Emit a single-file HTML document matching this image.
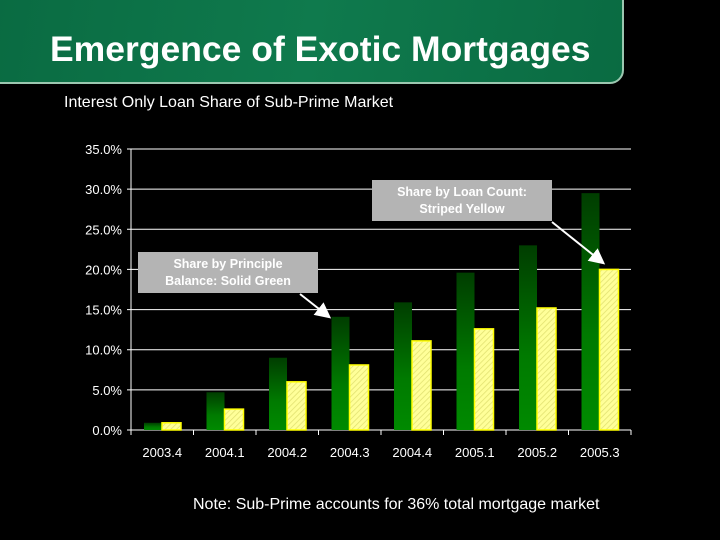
<!DOCTYPE html>
<html><head><meta charset="utf-8"><style>
body{margin:0;background:#000;width:720px;height:540px;overflow:hidden;font-family:"Liberation Sans",sans-serif;position:relative}
#hdr{position:absolute;left:-4px;top:-4px;width:628px;height:88px;background:linear-gradient(100deg,#0a6b42,#0f7a4d 50%,#0a6b42);border:2px solid #9cc7b0;border-bottom-right-radius:14px;box-sizing:border-box}
#title{position:absolute;left:50px;top:29px;font-size:35.5px;font-weight:bold;color:#fff;white-space:nowrap}
#sub{position:absolute;left:64px;top:94px;font-size:16px;color:#fff;white-space:nowrap}
#note{position:absolute;left:193px;top:496px;font-size:16px;color:#fff;white-space:nowrap}
</style></head><body>
<div id="hdr"></div>
<div id="title">Emergence of Exotic Mortgages</div>
<div id="sub">Interest Only Loan Share of Sub-Prime Market</div>
<div id="note">Note: Sub-Prime accounts for 36% total mortgage market</div>
<svg id="c" width="720" height="540" style="position:absolute;left:0;top:0">
<defs>
<linearGradient id="gg" x1="0" y1="0" x2="0" y2="1"><stop offset="0" stop-color="#003d00"/><stop offset="0.6" stop-color="#007a00"/><stop offset="1" stop-color="#008a00"/></linearGradient>
<pattern id="yp" width="4" height="4" patternUnits="userSpaceOnUse" patternTransform="rotate(45)"><rect width="4" height="4" fill="#ffff99"/><line x1="0" y1="0" x2="0" y2="4" stroke="#e0e070" stroke-width="1.5"/></pattern>
<marker id="ah" markerWidth="8" markerHeight="8" refX="6" refY="4" orient="auto"><path d="M0,0 L8,4 L0,8 z" fill="#fff"/></marker>
</defs>
</svg>
<script>
const categories=["2003.4","2004.1","2004.2","2004.3","2004.4","2005.1","2005.2","2005.3"];
const greenValues=[0.9,4.7,9.0,14.1,15.9,19.6,23.0,29.5];
const yellowValues=[0.9,2.6,6.0,8.1,11.1,12.6,15.2,20.0];
const yTicks=[0,5,10,15,20,25,30,35];
const yTickLabels=["0.0%","5.0%","10.0%","15.0%","20.0%","25.0%","30.0%","35.0%"];
const NS="http://www.w3.org/2000/svg";
const svg=document.getElementById('c');
const X0=131,X1=631,Y0=430,Y1=149;
const y=v=>Y0-(v/35)*(Y0-Y1);
const bw=(X1-X0)/categories.length;
const x=i=>X0+i*bw;
function mk(t,a){const e=document.createElementNS(NS,t);for(const k in a)e.setAttribute(k,a[k]);svg.appendChild(e);return e;}
yTicks.forEach((t,i)=>{
 const l=mk('line',{x1:X0-4,x2:X1,y1:y(t),y2:y(t),stroke:'#fff','stroke-width':1});
 
 
 const tx=mk('text',{x:X0-9,y:y(t)+5,'text-anchor':'end',fill:'#fff','font-size':13,'font-family':'Liberation Sans, sans-serif'});
 tx.textContent=yTickLabels[i];
 
 
});
const ax=mk('line',{x1:X0,x2:X0,y1:Y1,y2:Y0,stroke:'#fff'});


categories.forEach((c,i)=>{
 const tk=mk('line',{x1:x(i),x2:x(i),y1:Y0,y2:Y0+5,stroke:'#fff'});
 
 
 const g=mk('rect',{x:x(i)+13,y:y(greenValues[i]),width:18,height:Y0-y(greenValues[i]),fill:'url(#gg)'});
 
 
 const yb=mk('rect',{x:x(i)+31,y:y(yellowValues[i]),width:19,height:Y0-y(yellowValues[i]),fill:'url(#yp)',stroke:'#ffff00','stroke-width':1.5});
 
 
 const tx=mk('text',{x:x(i)+bw/2,y:Y0+27,'text-anchor':'middle',fill:'#fff','font-size':13,'font-family':'Liberation Sans, sans-serif'});
 tx.textContent=c;
 
 
});
const tk=mk('line',{x1:X1,x2:X1,y1:Y0,y2:Y0+5,stroke:'#fff'});


function callout(bx,by,w,h,lines,ax1,ay1,ax2,ay2,name){
 const r=mk('rect',{x:bx,y:by,width:w,height:h,fill:'#b4b4b4'});
 
 
 lines.forEach((s,j)=>{const t=mk('text',{x:bx+w/2,y:by+16+j*17,'text-anchor':'middle',fill:'#fff','font-size':12.5,'font-weight':'bold','font-family':'Liberation Sans, sans-serif'});t.textContent=s;
 
 });
 const a=mk('line',{x1:ax1,y1:ay1,x2:ax2,y2:ay2,stroke:'#fff','stroke-width':2,'marker-end':'url(#ah)'});
 
 
}
callout(138,252,180,41,["Share by Principle","Balance: Solid Green"],300,294,328,316,'green-callout');
callout(372,180,180,41,["Share by Loan Count:","Striped Yellow"],552,222,602,262,'yellow-callout');
</script>
</body></html>
